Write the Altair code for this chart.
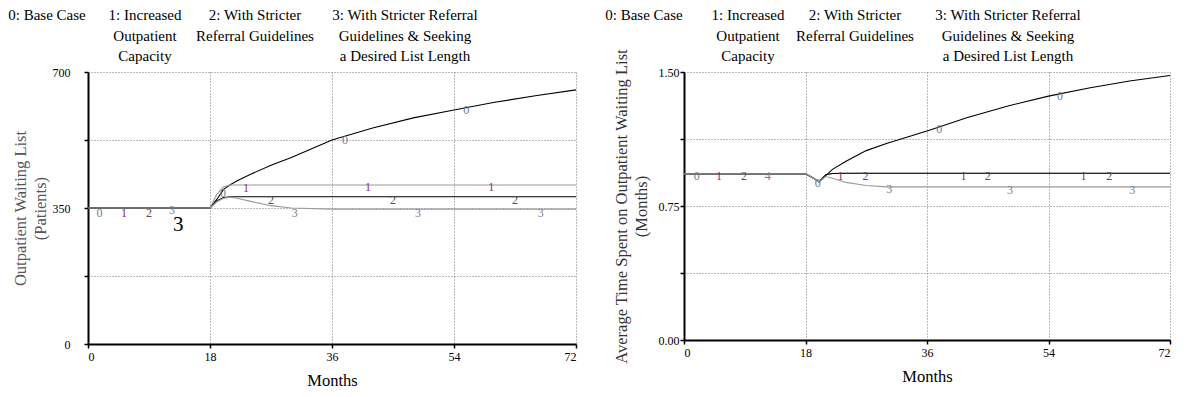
import altair as alt
import pandas as pd

# ---------------- data ----------------
months = [0, 18, 19, 20, 21, 22, 24, 27, 30, 36, 42, 48, 54, 60, 66, 72]
series_ids = ["0", "1", "2", "3"]

# Outpatient Waiting List (Patients)
wl_base = [350, 350, 372, 398, 410, 420, 437, 460, 480, 525, 556, 582, 602, 622, 639, 654]
wl_capacity = [350, 350, 385, 405, 409, 409, 409, 409, 409, 409, 409, 409, 409, 409, 409, 409]
wl_referral = [350, 350, 368, 377, 379, 379, 379, 379, 379, 379, 379, 379, 379, 379, 379, 379]
wl_desired = [350, 350, 366, 375, 378, 375, 367, 356, 350, 347, 347, 347, 347, 347, 347, 347]

# Average Time Spent on Outpatient Waiting List (Months)
wt_base = [0.93, 0.93, 0.91, 0.885, 0.92, 0.955, 1.0, 1.06, 1.10, 1.17, 1.245, 1.31, 1.365, 1.41, 1.45, 1.48]
wt_capacity = [0.93, 0.93, 0.91, 0.885, 0.925, 0.932, 0.933, 0.933, 0.933, 0.933, 0.933, 0.933, 0.933, 0.933, 0.933, 0.933]
wt_referral = [0.93, 0.93, 0.91, 0.885, 0.925, 0.932, 0.933, 0.933, 0.933, 0.933, 0.933, 0.933, 0.933, 0.933, 0.933, 0.933]
wt_desired = [0.93, 0.93, 0.91, 0.885, 0.915, 0.905, 0.882, 0.865, 0.857, 0.857, 0.857, 0.857, 0.857, 0.857, 0.857, 0.857]

# line-number markers placed along the curves
wl_lab_text = ["0", "0", "0", "0", "1", "1", "1", "1", "2", "2", "2", "2", "3", "3", "3", "3"]
wl_lab_month = [1.7, 19.9, 37.9, 55.8, 5.3, 23.3, 41.3, 59.5, 9.0, 27.0, 45.0, 63.0, 12.4, 30.5, 48.7, 66.8]
wl_lab_value = [338, 389, 525, 602, 338, 402, 404, 404, 338, 370, 370, 370, 345, 338, 338, 338]

wt_lab_text = ["0", "0", "0", "0", "1", "1", "1", "1", "2", "2", "2", "2", "4", "3", "3", "3"]
wt_lab_month = [1.9, 19.8, 37.8, 55.7, 5.2, 23.2, 41.4, 59.2, 8.9, 26.9, 45.0, 63.0, 12.4, 30.4, 48.3, 66.4]
wt_lab_value = [0.918, 0.879, 1.181, 1.365, 0.918, 0.918, 0.918, 0.918, 0.918, 0.918, 0.918, 0.918, 0.918, 0.845, 0.839, 0.839]

header_texts = [
    "0: Base Case",
    "1: Increased\nOutpatient\nCapacity",
    "2: With Stricter\nReferral Guidelines",
    "3: With Stricter Referral\nGuidelines & Seeking\na Desired List Length",
]

line_colors = ["#000000", "#9a9a9a", "#000000", "#9a9a9a"]
label_colors = ["#6d7d8d", "#8a2a7a", "#505050", "#7d7d8d"]

FONT = "Liberation Serif"


def long_frame(values_list):
    rows = []
    for sid, vals in zip(series_ids, values_list):
        for m, v in zip(months, vals):
            rows.append({"series": sid, "month": m, "value": v})
    return pd.DataFrame(rows)


def panel(values_list, lab_text, lab_month, lab_value, ydomain, yvalues, label_expr,
          ytitle, width, height, header_x, label_padding, title_padding, title_color,
          extra=None):
    df = long_frame(values_list)
    lab = pd.DataFrame({"series": lab_text, "month": lab_month, "value": lab_value})
    lab["key"] = lab["series"].replace({"4": "3"})

    x = alt.X("month:Q", scale=alt.Scale(domain=[0, 72], nice=False, zero=False),
              axis=alt.Axis(values=[0, 18, 36, 54, 72], title="Months", format="d",
                            titlePadding=10, labelPadding=3))
    y = alt.Y("value:Q", scale=alt.Scale(domain=ydomain, nice=False, zero=False),
              axis=alt.Axis(values=yvalues, title=ytitle, labelExpr=label_expr,
                            labelPadding=label_padding, titlePadding=title_padding,
                            titleColor=title_color, titleLineHeight=20))

    lines = alt.Chart(df).mark_line(strokeWidth=1.1, clip=False).encode(
        x=x, y=y,
        detail="series:N",
        color=alt.Color("series:N", scale=alt.Scale(domain=series_ids, range=line_colors), legend=None),
        order=alt.Order("month:Q"),
    )
    labels = alt.Chart(lab).mark_text(font=FONT, fontSize=12, baseline="middle", align="center").encode(
        x="month:Q", y="value:Q", text="series:N",
        color=alt.Color("key:N", scale=alt.Scale(domain=series_ids, range=label_colors), legend=None),
    )
    layers = [lines, labels]
    if extra is not None:
        layers.append(extra)
    for hx, txt in zip(header_x, header_texts):
        layers.append(
            alt.Chart(pd.DataFrame({"t": [txt]})).mark_text(
                font=FONT, fontSize=15, align="center", baseline="top",
                lineBreak="\n", lineHeight=20.5, color="black",
            ).encode(x=alt.value(hx), y=alt.value(-64), text="t:N")
        )
    return alt.layer(*layers).resolve_scale(color="independent").properties(width=width, height=height)


big3 = alt.Chart(pd.DataFrame({"t": ["3"], "month": [13.3], "value": [306]})).mark_text(
    font=FONT, fontSize=21, baseline="middle", align="center", color="black"
).encode(x="month:Q", y="value:Q", text="t:N")

left = panel([wl_base, wl_capacity, wl_referral, wl_desired], wl_lab_text, wl_lab_month, wl_lab_value,
             [0, 700], [0, 175, 350, 525, 700], "datum.value % 350 == 0 ? datum.label : ''",
             ["Outpatient Waiting List", "(Patients)"], 488, 272,
             [-41, 57, 167, 317], 14, 4, "#555555", extra=big3)

right = panel([wt_base, wt_capacity, wt_referral, wt_desired], wt_lab_text, wt_lab_month, wt_lab_value,
              [0, 1.5], [0, 0.375, 0.75, 1.125, 1.5],
              "(datum.value == 0 || datum.value == 0.75 || datum.value == 1.5) ? format(datum.value, '.2f') : ''",
              ["Average Time Spent on Outpatient Waiting List", "(Months)"], 486, 268,
              [-40, 64, 171, 324], 1, 9, "#333333")

chart = alt.hconcat(left, right, spacing=26).properties(
    padding={"left": 0, "top": 0, "right": 0, "bottom": 0}
).configure_view(stroke=None).configure_axis(
    labelFont=FONT, labelFontSize=12, labelColor="black",
    titleFont=FONT, titleFontSize=16.5, titleFontWeight="normal", titleColor="black",
    domainColor="black", domainWidth=2, tickColor="black", tickSize=4, tickWidth=1.5,
    gridColor="#777777", gridDash=[1, 2], gridWidth=1,
)

chart.save("out.html", embed_options={"renderer": "svg", "actions": False})
